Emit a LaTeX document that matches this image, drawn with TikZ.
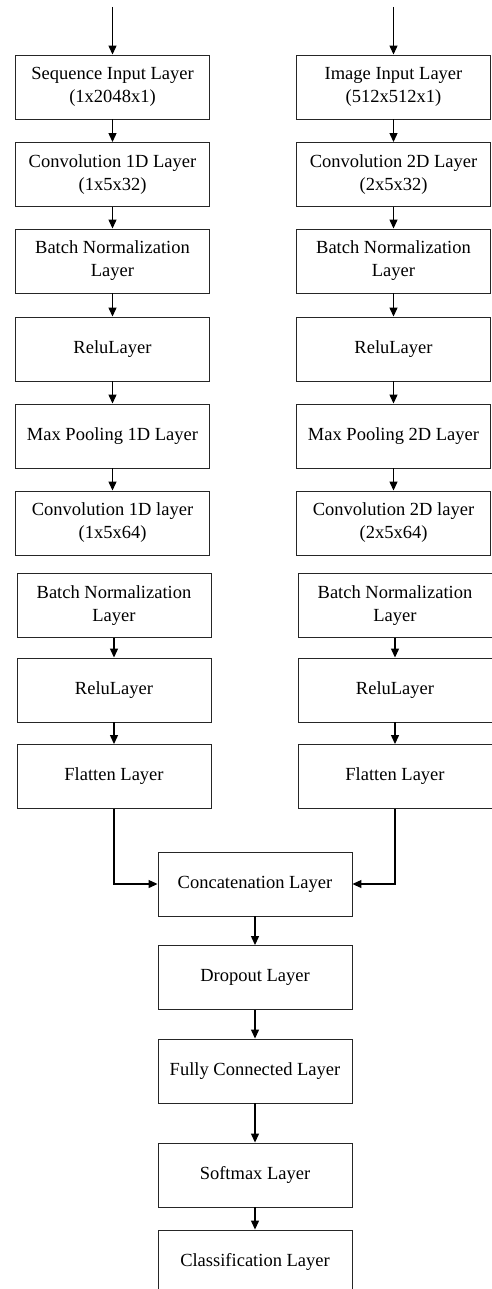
\documentclass[tikz,border=0pt]{standalone}
\usepackage{fontspec}
\setmainfont{Liberation Serif}
\usetikzlibrary{arrows.meta}
\begin{document}
\begin{tikzpicture}[x=1pt,y=-1pt,
  layer/.style={draw=black!85, line width=0.9pt, minimum width=194pt, minimum height=64pt,
    inner sep=0pt, align=center, font=\fontsize{18.5}{23}\selectfont},
  conn/.style={line width=1.2pt, -{Triangle[length=9pt,width=8pt]}}]
\useasboundingbox (0,0) rectangle (491,1289);
% left column
\node[layer] (l1) at (112.5,87) {Sequence Input Layer\\(1x2048x1)};
\node[layer] (l2) at (112.5,174.5) {Convolution 1D Layer\\(1x5x32)};
\node[layer] (l3) at (112.5,261) {Batch Normalization\\Layer};
\node[layer] (l4) at (112.5,349) {ReluLayer};
\node[layer] (l5) at (112.5,436) {Max Pooling 1D Layer};
\node[layer] (l6) at (112.5,523) {Convolution 1D layer\\(1x5x64)};
\node[layer] (l7) at (114,605.5) {Batch Normalization\\Layer};
\node[layer] (l8) at (114,690) {ReluLayer};
\node[layer] (l9) at (114,776.5) {Flatten Layer};
% right column
\node[layer] (r1) at (393.5,87) {Image Input Layer\\(512x512x1)};
\node[layer] (r2) at (393.5,174.5) {Convolution 2D Layer\\(2x5x32)};
\node[layer] (r3) at (393.5,261) {Batch Normalization\\Layer};
\node[layer] (r4) at (393.5,349) {ReluLayer};
\node[layer] (r5) at (393.5,436) {Max Pooling 2D Layer};
\node[layer] (r6) at (393.5,523) {Convolution 2D layer\\(2x5x64)};
\node[layer] (r7) at (395,605.5) {Batch Normalization\\Layer};
\node[layer] (r8) at (395,690) {ReluLayer};
\node[layer] (r9) at (395,776.5) {Flatten Layer};
% center column
\node[layer] (c1) at (255,884) {Concatenation Layer};
\node[layer] (c2) at (255,977.5) {Dropout Layer};
\node[layer] (c3) at (255,1071) {Fully Connected Layer};
\node[layer] (c4) at (255,1175) {Softmax Layer};
\node[layer] (c5) at (255,1262) {Classification Layer};
% inputs
\coordinate (lin) at (112.5,7);
\coordinate (rin) at (393.5,7);
\draw[conn] (lin) -- (l1.north);
\draw[conn] (rin) -- (r1.north);
\foreach \a/\b in {l1/l2,l2/l3,l3/l4,l4/l5,l5/l6,l7/l8,l8/l9,r1/r2,r2/r3,r3/r4,r4/r5,r5/r6,r7/r8,r8/r9,c1/c2,c2/c3,c3/c4,c4/c5}
  \draw[conn] (\a.south) -- (\b.north);
\draw[conn] (l9.south) |- (c1.west);
\draw[conn] (r9.south) |- (c1.east);
\end{tikzpicture}
\end{document}
